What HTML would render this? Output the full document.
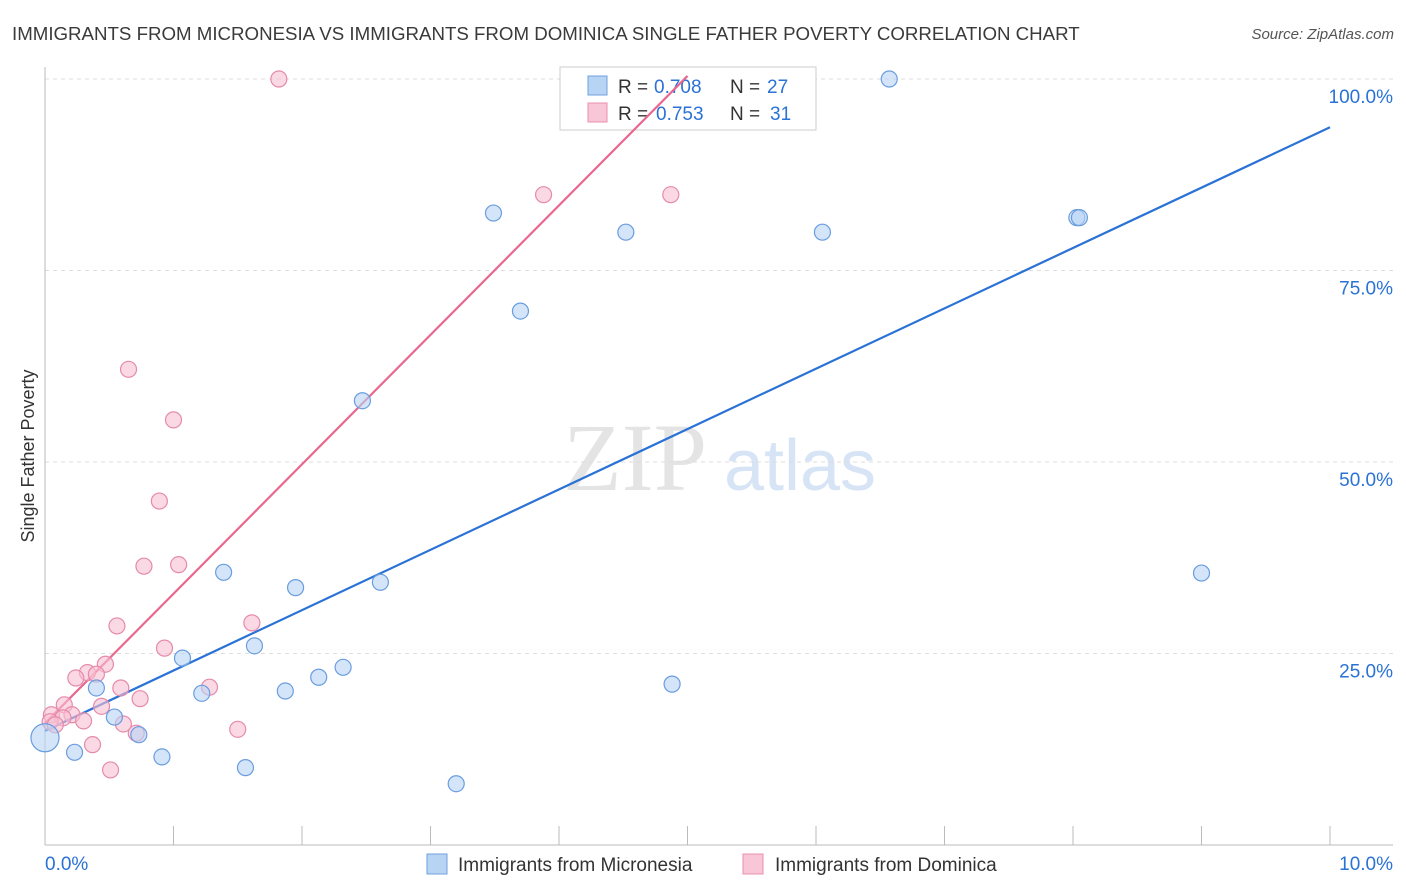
<!DOCTYPE html>
<html><head><meta charset="utf-8">
<style>
body{margin:0;background:#fff;font-family:"Liberation Sans",sans-serif;}
#wrap{position:relative;width:1406px;height:892px;overflow:hidden;}
</style></head>
<body>
<div id="wrap">
<svg id="svg" width="1406" height="892" xmlns="http://www.w3.org/2000/svg">
<text x="12" y="40" font-size="18.7" fill="#3a3a3a">IMMIGRANTS FROM MICRONESIA VS IMMIGRANTS FROM DOMINICA SINGLE FATHER POVERTY CORRELATION CHART</text>
<text x="1394" y="39" font-size="15" fill="#555" font-style="italic" text-anchor="end">Source: ZipAtlas.com</text>
<text x="635" y="490" font-size="96" fill="#e4e4e4" font-family="Liberation Serif,serif" text-anchor="middle">ZIP</text>
<text x="800" y="490" font-size="72" fill="#d6e4f5" text-anchor="middle">atlas</text>
<text transform="translate(34,456) rotate(-90)" font-size="18" fill="#333" text-anchor="middle">Single Father Poverty</text>
<g id="grid"></g><g id="axes"></g>
<g>
<rect x="560" y="67" width="256" height="63" fill="#fff" stroke="#ccc"/>
<rect x="588" y="76" width="19" height="19" fill="#b8d4f5" stroke="#6fa0e0"/>
<rect x="588" y="103" width="19" height="19" fill="#f8c6d6" stroke="#e890b0"/>
<text x="618" y="93" font-size="19" fill="#333">R =</text>
<text x="654" y="93" font-size="19" fill="#2a72d5">0.708</text>
<text x="730" y="93" font-size="19" fill="#333">N =</text>
<text x="767" y="93" font-size="19" fill="#2a72d5">27</text>
<text x="618" y="120" font-size="19" fill="#333">R =</text>
<text x="656" y="120" font-size="19" fill="#2a72d5">0.753</text>
<text x="730" y="120" font-size="19" fill="#333">N =</text>
<text x="770" y="120" font-size="19" fill="#2a72d5">31</text>
</g>
<g id="lines"></g><g id="pts"></g>
<g>
<rect x="427" y="854" width="20" height="20" fill="#b8d4f5" stroke="#6fa0e0"/>
<text x="458" y="871" font-size="19" fill="#333">Immigrants from Micronesia</text>
<rect x="743" y="854" width="20" height="20" fill="#f8c6d6" stroke="#e890b0"/>
<text x="775" y="871" font-size="19" fill="#333">Immigrants from Dominica</text>
</g>
<text x="45" y="870" font-size="19" fill="#2a72d5">0.0%</text>
<text x="1393" y="870" font-size="19" fill="#2a72d5" text-anchor="end">10.0%</text>
</svg>
</div>
<script>
const yTicks=[25,50,75,100];
const yTickLabels=["25.0%","50.0%","75.0%","100.0%"];
const xTicks=[0,1,2,3,4,5,6,7,8,9,10];
const blueX=[0,0.23,0.40,0.54,0.73,0.91,1.07,1.22,1.39,1.56,1.63,1.87,1.95,2.13,2.32,2.47,2.61,3.20,3.49,3.70,4.52,4.88,6.05,6.57,8.03,8.05,9.00];
const blueY=[14.0,12.1,20.5,16.7,14.4,11.5,24.4,19.8,35.6,10.1,26.0,20.1,33.6,21.9,23.2,58.0,34.3,8.0,82.5,69.7,80.0,21.0,80.0,100,81.9,81.9,35.5];
const pinkX=[1.82,3.88,4.87,0.65,1.00,0.89,0.77,1.04,0.56,1.61,0.93,0.47,0.33,0.40,0.24,0.59,1.28,0.74,0.15,0.44,0.21,0.05,0.14,0.30,0.61,0.04,0.71,1.50,0.37,0.51,0.08];
const pinkY=[100,84.9,84.9,62.1,55.5,44.9,36.4,36.6,28.6,29.0,25.7,23.6,22.5,22.3,21.8,20.5,20.6,19.1,18.3,18.1,17.0,17.0,16.6,16.2,15.8,16.1,14.6,15.1,13.1,9.8,15.7];
const blueTrend=[[0,14.9],[10,93.7]];
const pinkTrend=[[0,15.9],[5.0,100.4]];
const NS="http://www.w3.org/2000/svg";
const xs=v=>45+v*128.5, ys=v=>845-v*7.66;
function mk(tag,attrs,parent){const e=document.createElementNS(NS,tag);for(const k in attrs)e.setAttribute(k,attrs[k]);document.getElementById(parent).appendChild(e);return e;}
yTicks.forEach((t,i)=>{
 const l=mk('line',{x1:45,x2:1393,y1:ys(t),y2:ys(t),stroke:'#ddd','stroke-dasharray':'4,4'},'grid');
 
 
 const tx=mk('text',{x:1393,y:ys(t)+24,'font-size':19,fill:'#2a72d5','text-anchor':'end'},'grid');
 tx.textContent=yTickLabels[i];
 
 
});
const ax=mk('line',{x1:45,x2:45,y1:67,y2:845,stroke:'#bbb'},'axes');


const bx=mk('line',{x1:45,x2:1393,y1:845,y2:845,stroke:'#bbb'},'axes');


xTicks.forEach(t=>{
 const l=mk('line',{x1:xs(t),x2:xs(t),y1:826,y2:845,stroke:'#bbb'},'axes');
 
 
});
function pts(X,Y,fill,stroke,name){
 X.forEach((x,i)=>{
  const big=(x===0&&name==='blue-point');
  const c=mk('circle',{cx:xs(x),cy:ys(Y[i]),r:big?14:8,fill:fill,'fill-opacity':0.6,stroke:stroke,'stroke-width':1.2},'pts');
  
  
 });
}
pts(pinkX,pinkY,'#f8c0d2','#e58aab','pink-point');
pts(blueX,blueY,'#b8d4f5','#6a9ddf','blue-point');
const bl=mk('line',{x1:xs(blueTrend[0][0]),y1:ys(blueTrend[0][1]),x2:xs(blueTrend[1][0]),y2:ys(blueTrend[1][1]),stroke:'#2a72d5','stroke-width':2.2},'lines');


const pl=mk('line',{x1:xs(pinkTrend[0][0]),y1:ys(pinkTrend[0][1]),x2:xs(pinkTrend[1][0]),y2:ys(pinkTrend[1][1]),stroke:'#e8688f','stroke-width':2.2},'lines');


</script>
</body></html>
